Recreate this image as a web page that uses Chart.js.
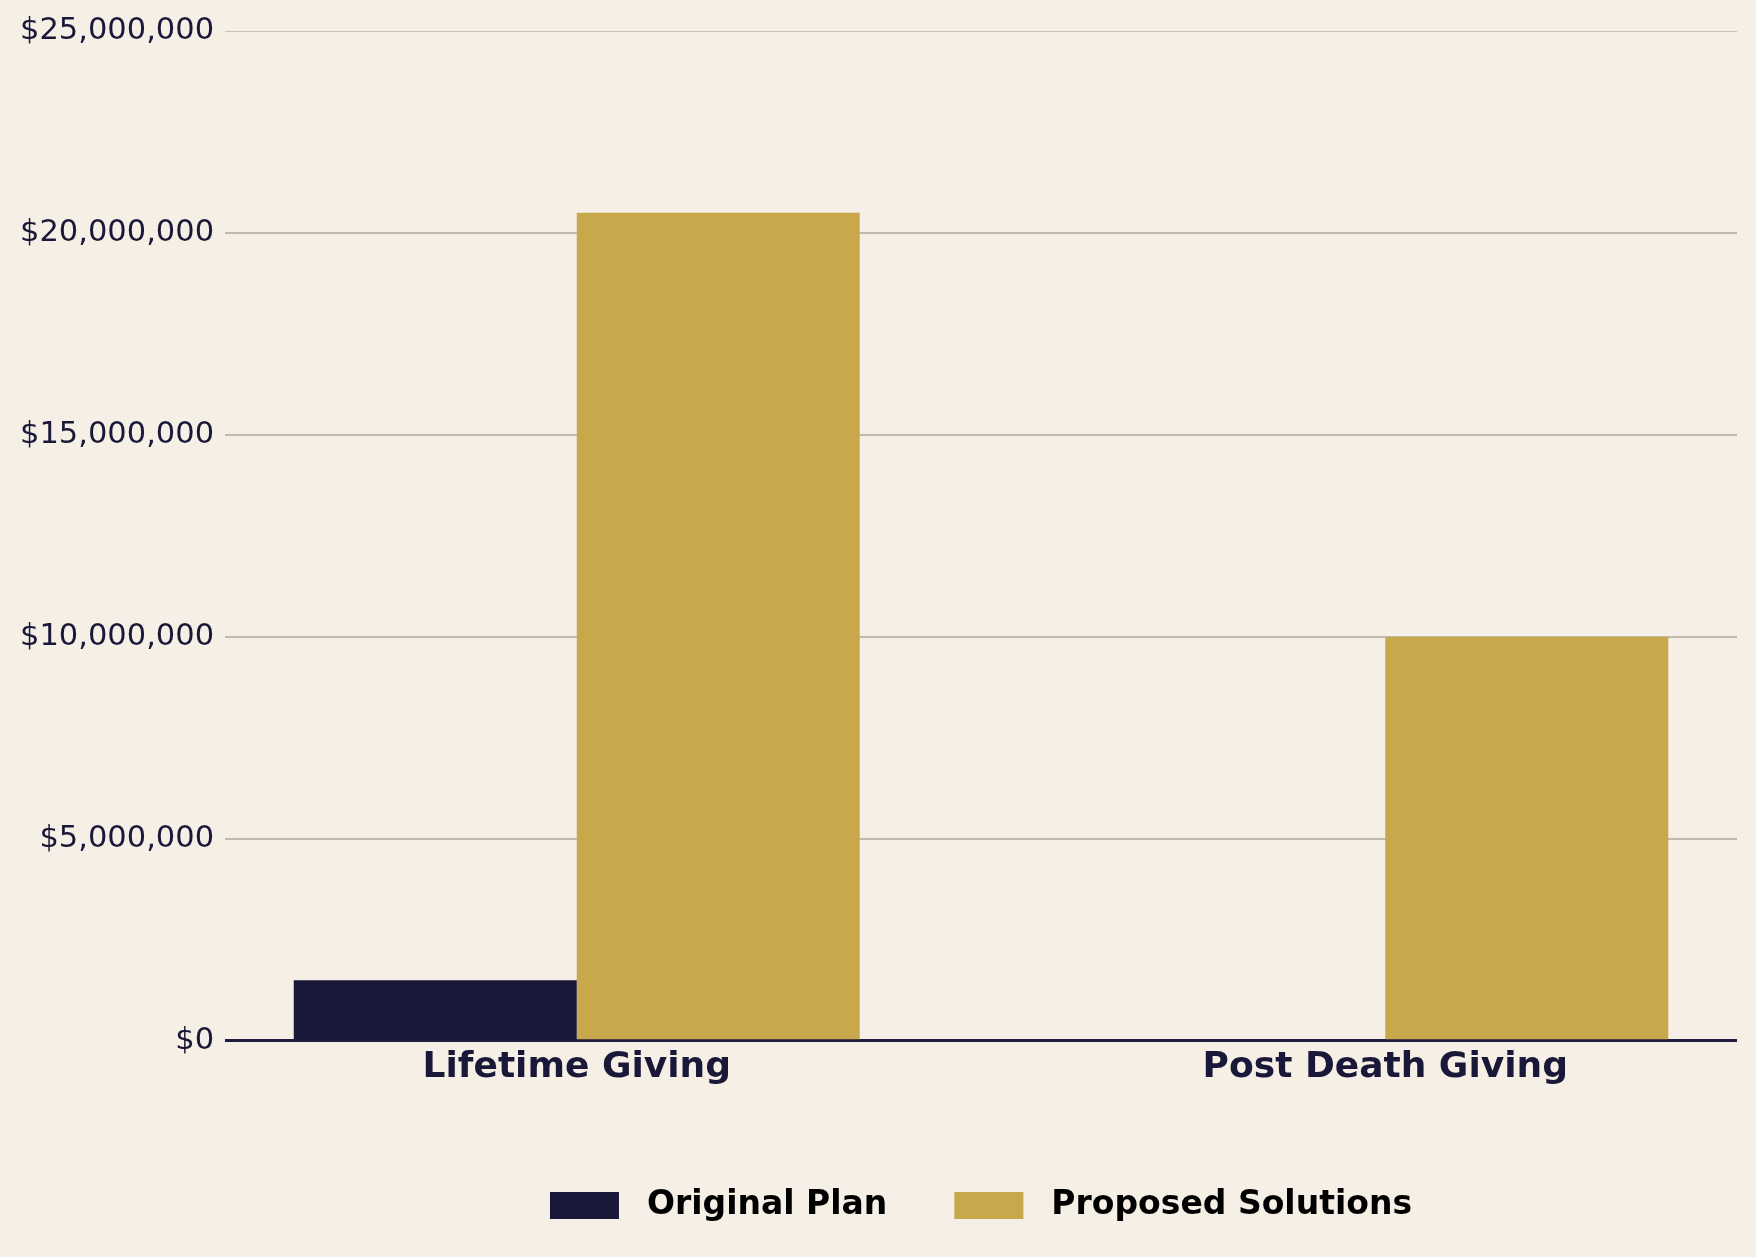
<!DOCTYPE html>
<html>
<head>
<meta charset="utf-8">
<script src="https://cdn.jsdelivr.net/npm/chart.js"></script>
<style>
  body { margin: 0; background: #f5efe6; }
  #wrap { width: 1756px; height: 1257px; }
</style>
</head>
<body>
<div id="wrap"><canvas id="giving" width="1756" height="1257"></canvas></div>
<script>
const categories = ["Lifetime Giving", "Post Death Giving"];
const originalPlan = [1500000, 0];
const proposedSolutions = [20500000, 10000000];
const yTicks = [0, 5000000, 10000000, 15000000, 20000000, 25000000];

const navy = "#1a1838";
const gold = "#c9a84c";

function toPoints(values) {
    return values.map((v, i) => ({ x: i, y: v }));
}

new Chart("giving", {
    type: "bar",
    data: {
        datasets: [{
            label: "Original Plan",
            backgroundColor: navy,
            data: toPoints(originalPlan)
        }, {
            label: "Proposed Solutions",
            backgroundColor: gold,
            data: toPoints(proposedSolutions)
        }]
    },
    options: {
        responsive: false,
        animation: false,
        layout: { padding: { left: 9, right: 19, top: 31, bottom: 25 } },
        datasets: {
            bar: { categoryPercentage: 0.7, barPercentage: 1.0 }
        },
        scales: {
            x: {
                type: "linear",
                min: -0.435,
                max: 1.435,
                offset: false,
                afterBuildTicks: (axis) => {
                    axis.ticks = categories.map((c, i) => ({ value: i }));
                },
                ticks: {
                    callback: (v) => categories[v],
                    color: navy,
                    padding: 5,
                    maxRotation: 0,
                    font: { family: "DejaVu Sans", size: 36, weight: "bold" }
                },
                grid: { display: false, drawTicks: false, offset: false },
                border: { display: false }
            },
            y: {
                min: 0,
                max: 25000000,
                afterBuildTicks: (axis) => {
                    axis.ticks = yTicks.map(v => ({ value: v }));
                },
                ticks: {
                    callback: (v) => "$" + v.toLocaleString("en-US"),
                    color: navy,
                    padding: 11,
                    font: { family: "DejaVu Sans", size: 30.5 }
                },
                grid: {
                    drawTicks: false,
                    color: (ctx) => ctx.tick && ctx.tick.value === 0 ? "#1f1b3e"
                        : (ctx.tick && ctx.tick.value === 25000000 ? "#c8c3b5" : "#bfbbab"),
                    lineWidth: (ctx) => ctx.tick && ctx.tick.value === 0 ? 3
                        : (ctx.tick && ctx.tick.value === 25000000 ? 1 : 2)
                },
                border: { display: false }
            }
        },
        plugins: {
            legend: {
                position: "bottom",
                fullSize: false,
                title: {
                    display: true,
                    text: "",
                    font: { size: 1, lineHeight: 1 },
                    padding: { top: 27, bottom: 0 }
                },
                labels: {
                    boxWidth: 69,
                    boxHeight: 27,
                    padding: 67,
                    color: "#000000",
                    font: { family: "DejaVu Sans", size: 33, weight: "bold" },
                    generateLabels: (chart) => chart.data.datasets.map((ds, i) => ({
                        text: " " + ds.label,
                        fillStyle: ds.backgroundColor,
                        strokeStyle: ds.backgroundColor,
                        fontColor: "#000000",
                        lineWidth: 0,
                        datasetIndex: i,
                        hidden: false
                    }))
                }
            },
            tooltip: { enabled: false }
        }
    }
});
</script>
</body>
</html>
